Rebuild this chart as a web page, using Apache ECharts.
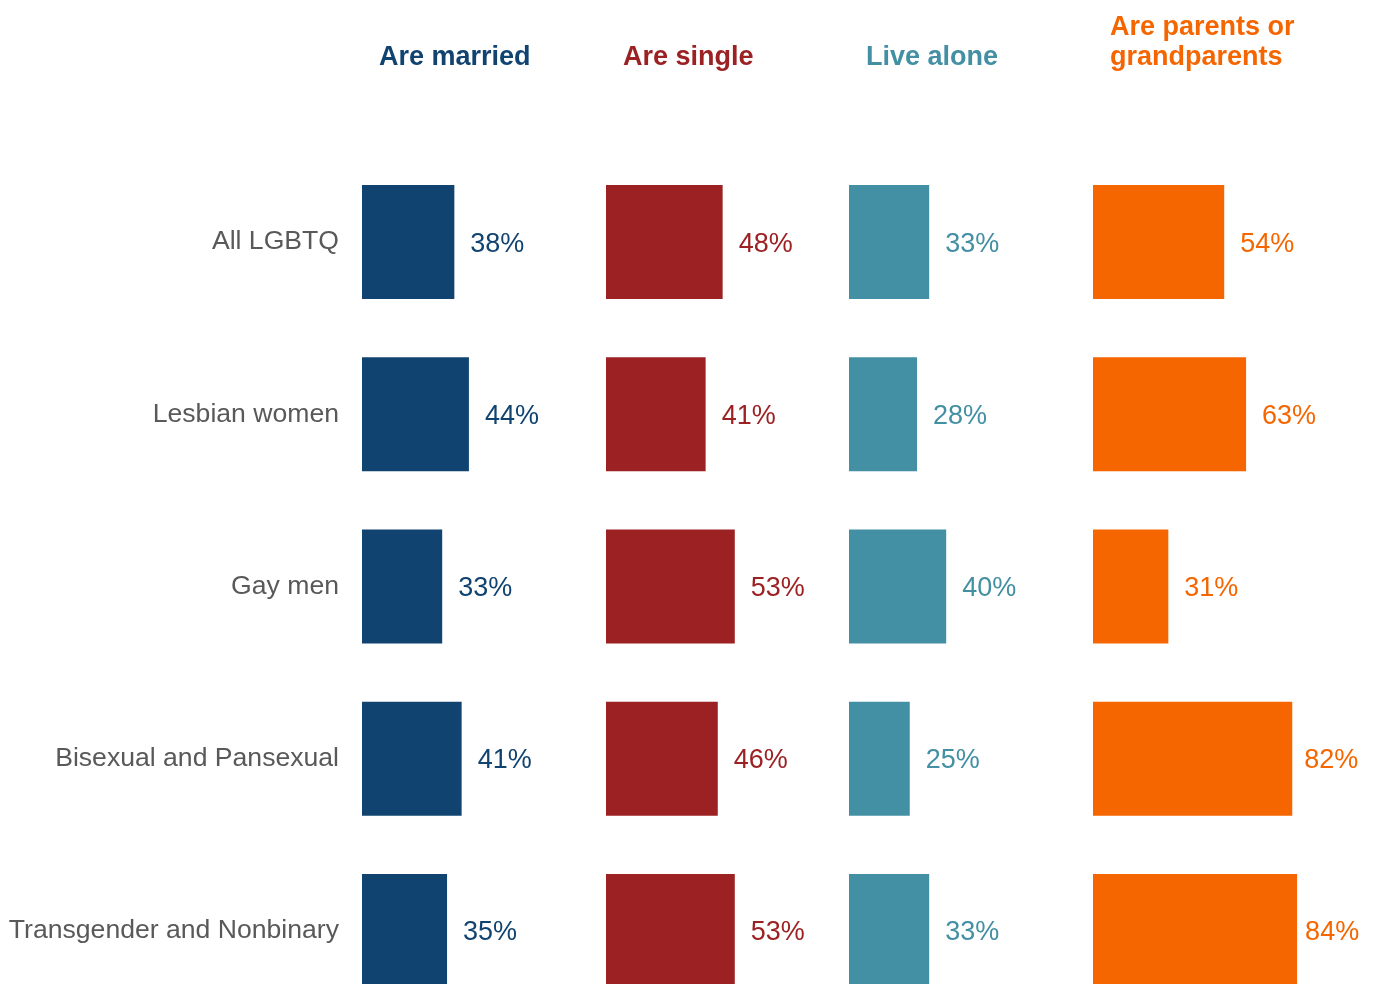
<!DOCTYPE html>
<html>
<head>
<meta charset="utf-8">
<script src="https://cdn.jsdelivr.net/npm/echarts@6/dist/echarts.min.js"></script>
<style>
    html, body { margin: 0; padding: 0; background: #fff; overflow: hidden; }
    #chart { width: 1375px; height: 1017px; }
</style>
</head>
<body>
<div id="chart"></div>
<script>
// data
var groups = ['All LGBTQ', 'Lesbian women', 'Gay men', 'Bisexual and Pansexual', 'Transgender and Nonbinary'];
var titles = ['Are married', 'Are single', 'Live alone', 'Are parents or\ngrandparents'];
var married = [38, 44, 33, 41, 35];
var single = [48, 41, 53, 46, 53];
var alone = [33, 28, 40, 25, 33];
var parents = [54, 63, 31, 82, 84];

var values = [married, single, alone, parents];
var colors = ['#114370', '#9c2123', '#438fa3', '#f56600'];
var lefts = [362, 606, 849, 1093];
// labels of the two longest bars sit closer to the bar
var labelGap = { 3: { 3: 12, 4: 8 } };

var myChart = echarts.init(document.getElementById('chart'));

var grids = [], xAxes = [], yAxes = [], series = [], titleList = [];
for (var i = 0; i < 4; i++) {
    grids.push({ left: lefts[i], width: 243, top: 156, height: 861 });
    xAxes.push({ type: 'value', gridIndex: i, min: 0, max: 100, show: false });
    yAxes.push({
        type: 'category', gridIndex: i, data: groups, inverse: true,
        axisLine: { show: false }, axisTick: { show: false },
        axisLabel: {
            show: i === 0, margin: 23, fontSize: 26.6, color: '#595959',
            fontFamily: 'Liberation Sans', lineHeight: 34, verticalAlign: 'middle'
        }
    });
    var items = values[i].map(function (v, j) {
        var gap = labelGap[i] && labelGap[i][j];
        return gap ? { value: v, label: { distance: gap } } : v;
    });
    series.push({
        type: 'bar', xAxisIndex: i, yAxisIndex: i,
        data: items, barWidth: 114,
        itemStyle: { color: colors[i] },
        label: {
            show: true, position: 'right', distance: 16,
            formatter: '{c}%', fontSize: 27, color: colors[i],
            fontFamily: 'Liberation Sans', offset: [0, 2]
        }
    });
    titleList.push({
        text: titles[i], left: lefts[i] + 12, top: i === 3 ? 8 : 38,
        textStyle: {
            color: colors[i], fontSize: 27, fontWeight: 'bold', lineHeight: 30,
            fontFamily: 'Liberation Sans'
        }
    });
}

myChart.setOption({
    animation: false,
    title: titleList,
    grid: grids,
    xAxis: xAxes,
    yAxis: yAxes,
    series: series
});
</script>
</body>
</html>
